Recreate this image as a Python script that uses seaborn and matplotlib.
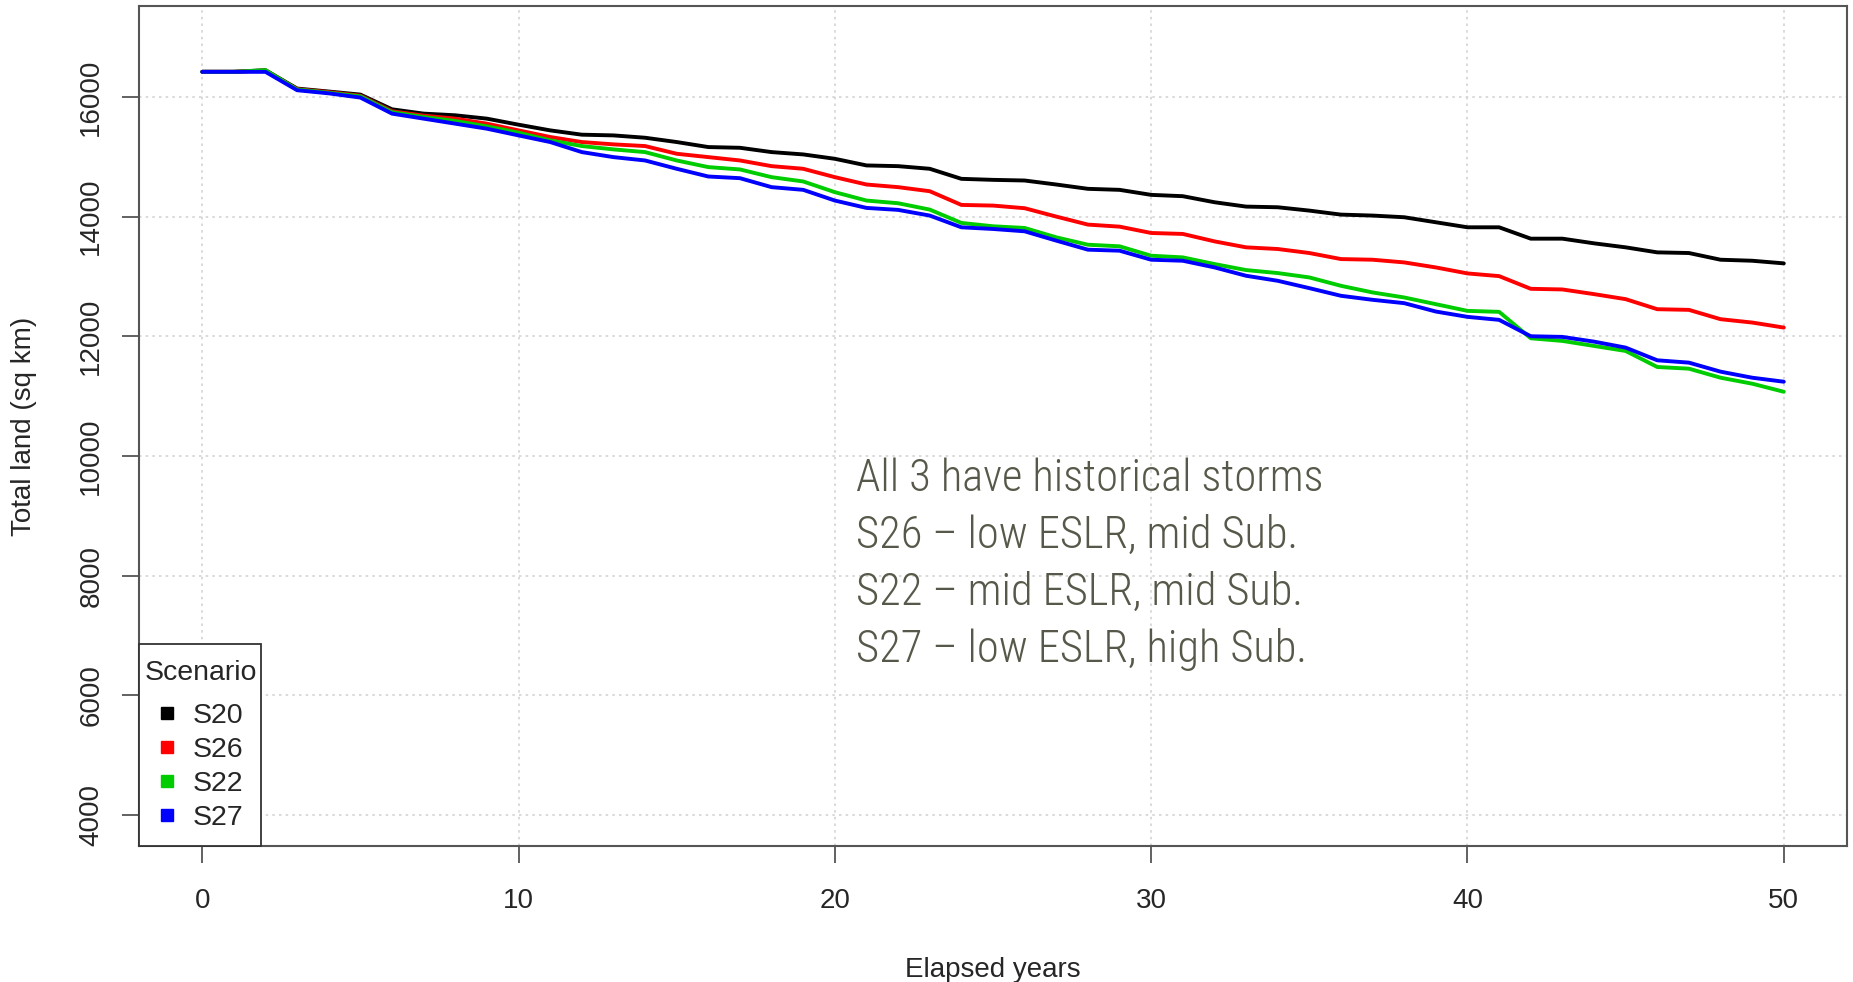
import pandas as pd
import matplotlib
matplotlib.use('Agg')
import matplotlib.pyplot as plt
from matplotlib import font_manager
from matplotlib.lines import Line2D
from matplotlib.patches import Rectangle
import seaborn as sns

# land area per scenario, one value per elapsed year (0..50)
years = list(range(51))
s20 = [16420, 16420, 16447, 16140, 16090, 16039, 15793, 15721, 15693, 15637,
       15536, 15441, 15369, 15357, 15318, 15246, 15162, 15150, 15078, 15039,
       14966, 14855, 14843, 14799, 14631, 14614, 14603, 14536, 14464, 14447,
       14363, 14341, 14240, 14167, 14156, 14100, 14033, 14017, 13989, 13905,
       13821, 13821, 13631, 13631, 13553, 13486, 13402, 13391, 13279, 13262,
       13218]
s26 = [16420, 16420, 16440, 16130, 16080, 16020, 15760, 15687, 15637, 15553,
       15441, 15330, 15246, 15207, 15179, 15050, 14994, 14938, 14843, 14799,
       14659, 14536, 14492, 14424, 14195, 14184, 14140, 14000, 13866, 13832,
       13726, 13710, 13586, 13486, 13458, 13391, 13290, 13279, 13234, 13150,
       13050, 13005, 12793, 12782, 12704, 12620, 12452, 12441, 12285, 12229,
       12145]
s22 = [16420, 16420, 16447, 16125, 16070, 16010, 15745, 15665, 15598, 15508,
       15402, 15274, 15179, 15123, 15078, 14938, 14827, 14788, 14659, 14587,
       14408, 14268, 14223, 14117, 13894, 13838, 13810, 13653, 13530, 13503,
       13346, 13318, 13207, 13106, 13056, 12983, 12843, 12732, 12648, 12536,
       12424, 12408, 11966, 11922, 11838, 11754, 11486, 11458, 11307, 11207,
       11072]
s27 = [16420, 16420, 16419, 16112, 16060, 15989, 15721, 15637, 15553, 15469,
       15357, 15246, 15078, 14994, 14938, 14799, 14670, 14642, 14492, 14447,
       14268, 14145, 14112, 14017, 13821, 13793, 13754, 13598, 13447, 13430,
       13279, 13262, 13151, 13011, 12927, 12804, 12676, 12609, 12553, 12413,
       12324, 12274, 12000, 11989, 11910, 11810, 11598, 11559, 11408, 11307,
       11240]

scenarios = ['S20', 'S26', 'S22', 'S27']
colors = ['#000000', '#ff0000', '#00cd00', '#0000ff']

notes = ['All 3 have historical storms',
         'S26 \u2013 low ESLR, mid Sub.',
         'S22 \u2013 mid ESLR, mid Sub.',
         'S27 \u2013 low ESLR, high Sub.']

df = pd.DataFrame({'year': years * 4,
                   'land': s20 + s26 + s22 + s27,
                   'scenario': [s for s in scenarios for _ in years]})

sns.set_style('white')
plt.rcParams['font.family'] = ['Liberation Sans', 'DejaVu Sans']

# pick a narrow face for the note if one is around
installed = {f.name for f in font_manager.fontManager.ttflist}
narrow = [n for n in ['Roboto Condensed', 'Liberation Sans Narrow', 'Open Sans Condensed']
          if n in installed]
if narrow:
    note_font = dict(family=[narrow[0], 'DejaVu Sans'], fontsize=32, weight='light')
else:
    note_font = dict(family=['DejaVu Sans'], stretch='condensed', fontsize=28)

fig, ax = plt.subplots(figsize=(18.53, 9.82), dpi=100)
fig.subplots_adjust(left=0.075, right=0.9968, top=0.9939, bottom=0.1385)

sns.lineplot(data=df, x='year', y='land', hue='scenario', hue_order=scenarios,
             palette=colors, linewidth=2.8, legend=False, ax=ax)

ax.set_xlim(-2, 52)
ax.set_ylim(3480, 17520)
ax.set_xticks(range(0, 51, 10))
ax.set_yticks(range(4000, 16001, 2000))
ax.grid(True, color='#d3d3d3', linestyle=(0, (1.5, 2.5)), linewidth=1.2)

for sp in ax.spines.values():
    sp.set_color('#555555')
    sp.set_linewidth(1.5)

ax.tick_params(axis='both', direction='out', length=12, width=1.3,
               color='#555555', labelsize=20, bottom=True, left=True)
ax.tick_params(axis='x', pad=18)
ax.tick_params(axis='y', pad=13)
plt.setp(ax.get_yticklabels(), rotation=90, va='center')

ax.set_xlabel('Elapsed years', fontsize=20, labelpad=31)
ax.set_ylabel('Total land (sq km)', fontsize=20, labelpad=30)

# annotation block
for i, line in enumerate(notes):
    ax.text(0.420, 0.437 - i * 0.0675, line, transform=ax.transAxes,
            color='#58584a', va='center', ha='left', **note_font)

# legend box drawn by hand (R style: tight sides, roomy top/bottom)
ax.add_patch(Rectangle((0, 0), 0.0713, 0.2405, transform=ax.transAxes,
                       facecolor='white', edgecolor='#333333', linewidth=1.3,
                       zorder=4.9, clip_on=False))
handles = [Line2D([], [], marker='s', linestyle='none', color=c,
                  markersize=9) for c in colors]
leg = ax.legend(handles, scenarios, title='Scenario', loc='upper left',
                bbox_to_anchor=(0.0035, 0.2214), borderaxespad=0, borderpad=0,
                fontsize=20.5, title_fontsize=20.5, frameon=False,
                alignment='left', handletextpad=0.08, labelspacing=0.28,
                handlelength=1.58)
leg._legend_box.sep = 12

fig.savefig('out.png', dpi=100)
